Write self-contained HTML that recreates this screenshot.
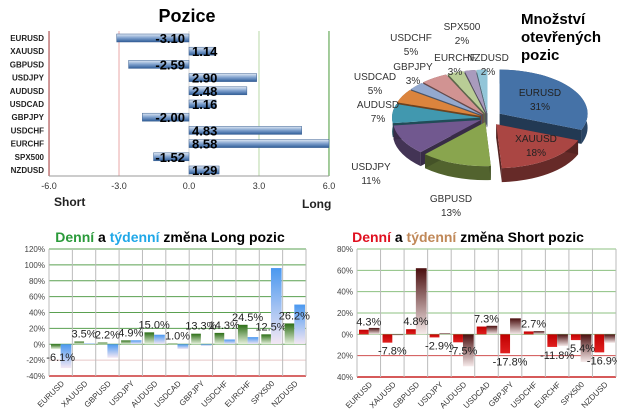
<!DOCTYPE html>
<html><head><meta charset="utf-8"><style>
html,body{margin:0;padding:0;background:#fff;}
svg{display:block;font-family:"Liberation Sans",sans-serif;}
</style></head><body>
<svg id="c" width="617" height="415" viewBox="0 0 617 415">
<defs>
<linearGradient id="gBlue" x1="0" y1="0" x2="0" y2="1"><stop offset="0" stop-color="#dfe8f4"/><stop offset="0.5" stop-color="#7d9fcc"/><stop offset="1" stop-color="#2f5d98"/></linearGradient>
<linearGradient id="gGreen" x1="0" y1="0" x2="0" y2="1"><stop offset="0" stop-color="#2c6e16"/><stop offset="1" stop-color="#e8f2df"/></linearGradient>
<linearGradient id="gLB" x1="0" y1="0" x2="0" y2="1"><stop offset="0" stop-color="#4a98f0"/><stop offset="1" stop-color="#f4e8f4"/></linearGradient>
<linearGradient id="gRed" x1="0" y1="0" x2="0" y2="1"><stop offset="0" stop-color="#c00000"/><stop offset="1" stop-color="#e02020"/></linearGradient>
<linearGradient id="gBrown" x1="0" y1="0" x2="0" y2="1"><stop offset="0" stop-color="#4a0e0e"/><stop offset="1" stop-color="#f6eaea"/></linearGradient>
</defs>
<g id="top"></g><g id="pie"></g><g id="bl"></g><g id="br"></g>
</svg>
<script>
const NS="http://www.w3.org/2000/svg";
function mk(p,t,a,txt){const e=document.createElementNS(NS,t);for(const k in a)e.setAttribute(k,a[k]);if(txt!==undefined)e.textContent=txt;p.appendChild(e);return e;}

// ---------- Pozice ----------
const posCats=["EURUSD","XAUUSD","GBPUSD","USDJPY","AUDUSD","USDCAD","GBPJPY","USDCHF","EURCHF","SPX500","NZDUSD"];
const posVals=[-3.10,1.14,-2.59,2.90,2.48,1.16,-2.00,4.83,8.58,-1.52,1.29];
const posTicks=[-6,-3,0,3,6];
const T=document.getElementById('top');
const px=v=>189+Math.max(-6,Math.min(6,v))*23.33;
const py=i=>38+i*13.2;
let t=mk(T,'text',{x:187,y:22,'font-size':18,'font-weight':'bold','text-anchor':'middle'},'Pozice');

const lineCols={"-6":"#a03030","-3":"#e8a8a8","0":"#d8d8d8","3":"#b8d8a8","6":"#4a9a3a"};
posTicks.forEach(v=>{
 let l=mk(T,'line',{x1:px(v),x2:px(v),y1:31,y2:176,stroke:lineCols[v],'stroke-width':1});
 
 let tx=mk(T,'text',{x:px(v),y:189,'font-size':9,'text-anchor':'middle',fill:'#333'},v.toFixed(1));
 
});
mk(T,'line',{x1:49,x2:329,y1:176,y2:176,stroke:'#999'});
posCats.forEach((c,i)=>{
 let y=py(i),v=posVals[i];
 let lb=mk(T,'text',{x:44,y:y+3,'font-size':8,'font-weight':'bold','text-anchor':'end',fill:'#222'},c);
 
 let x0=Math.min(px(0),px(v)),w=Math.abs(px(v)-px(0));
 let r=mk(T,'rect',{x:x0,y:y-4,width:w,height:8,fill:'url(#gBlue)',stroke:'#3a5f90','stroke-width':0.5});
 
 let vt=mk(T,'text',{x:v<0?185:192,y:y+5,'font-size':13,'font-weight':'bold','text-anchor':v<0?'end':'start'},v.toFixed(2));
 
});
t=mk(T,'text',{x:54,y:206,'font-size':12,'font-weight':'bold',fill:'#222'},'Short');

t=mk(T,'text',{x:302,y:208,'font-size':12,'font-weight':'bold',fill:'#222'},'Long');


// ---------- Pie ----------
const pieCats=["EURUSD","XAUUSD","GBPUSD","USDJPY","AUDUSD","USDCAD","GBPJPY","USDCHF","EURCHF","SPX500","NZDUSD"];
const pieVals=[31,18,13,11,7,5,3,5,3,2,2];
const pieCols=["#4572a7","#aa4643","#89a54e","#71588f","#4198af","#db843d","#93a9cf","#d19392","#b9cd96","#a99bbd","#92c5d8"];
const P=document.getElementById('pie');
const cx=488,cy=118,rx=88,ry=44,dep=14;
const tot=pieVals.reduce((a,b)=>a+b,0);
function darker(h,f){const n=parseInt(h.slice(1),16);const r=(n>>16)*f|0,g=((n>>8)&255)*f|0,b=(n&255)*f|0;return `rgb(${r},${g},${b})`;}
let acc=0;const sl=[];
pieVals.forEach((v,i)=>{const a0=acc/tot*2*Math.PI;acc+=v;const a1=acc/tot*2*Math.PI;sl.push([a0,a1,i]);});
function pt(a,ox,oy,d){return [ox+rx*Math.sin(a),oy-ry*Math.cos(a)+d];}
// sides first (sorted by depth)
sl.slice().sort((p,q)=>Math.cos((q[0]+q[1])/2)-Math.cos((p[0]+p[1])/2)).forEach(([a0,a1,i])=>{
 const m=(a0+a1)/2,ex=i<2?14:8;const ox=cx+ex*Math.sin(m),oy=cy-ex*0.55*Math.cos(m);
 const g=mk(P,'g',{});
 
 const p0=pt(a0,ox,oy,0),p1=pt(a1,ox,oy,0);
 const large=(a1-a0)>Math.PI?1:0;
 let d=`M${p0[0]},${p0[1]} A${rx},${ry} 0 ${large} 1 ${p1[0]},${p1[1]} L${p1[0]},${p1[1]+dep} A${rx},${ry} 0 ${large} 0 ${p0[0]},${p0[1]+dep} Z`;
 mk(g,'path',{d:d,fill:darker(pieCols[i],0.6)});
 mk(g,'path',{d:`M${ox},${oy} L${p0[0]},${p0[1]} L${p0[0]},${p0[1]+dep} L${ox},${oy+dep} Z`,fill:darker(pieCols[i],0.5)});
 mk(g,'path',{d:`M${ox},${oy} L${p1[0]},${p1[1]} L${p1[0]},${p1[1]+dep} L${ox},${oy+dep} Z`,fill:darker(pieCols[i],0.5)});
 mk(g,'path',{d:`M${ox},${oy} L${p0[0]},${p0[1]} A${rx},${ry} 0 ${large} 1 ${p1[0]},${p1[1]} Z`,fill:pieCols[i]});
});
const pieLabels=[[540,96,"#222"],[536,142,"#222"],[451,202,"#333"],[371,170,"#333"],[378,108,"#333"],[375,80,"#333"],[413,70,"#333"],[411,41,"#333"],[455,61,"#333"],[462,30,"#333"],[488,61,"#333"]];
pieCats.forEach((c,i)=>{
 const [x,y,f]=pieLabels[i];
 let tx=mk(P,'text',{x:x,y:y,'font-size':10,'text-anchor':'middle',fill:f},c);
 
 let tp=mk(P,'text',{x:x,y:y+14,'font-size':10,'text-anchor':'middle',fill:f},pieVals[i]+'%');
 
});
['Množství','otevřených','pozic'].forEach((s,k)=>{
 let tx=mk(P,'text',{x:521,y:24+k*18,'font-size':15,'font-weight':'bold'},s);
 
});

// ---------- column charts ----------
const longDaily=[-6.1,3.5,2.2,4.9,15.0,1.0,13.3,14.3,24.5,12.5,26.2];
const longWeekly=[-30,1,-17,5,12,-6,-2,6,9,96,50];
const shortDaily=[4.3,-7.8,4.8,-2.9,-7.5,7.3,-17.8,2.7,-11.8,-5.4,-16.9];
const shortWeekly=[6,-1,62,1,-30,8,15,3,-11,-26,-8];
const longTicks=[120,100,80,60,40,20,0,-20,-40];
const shortTicks=[80,60,40,20,0,-20,-40];
const colCats=["EURUSD","XAUUSD","GBPUSD","USDJPY","AUDUSD","USDCAD","GBPJPY","USDCHF","EURCHF","SPX500","NZDUSD"];

function colChart(G,o){
 const y=v=>o.y0-(v-o.min)/(o.max-o.min)*(o.y0-o.y1);
 const bw=(o.x1-o.x0)/colCats.length;
 o.ticks.forEach(v=>{
  let l=mk(G,'line',{x1:o.x0,x2:o.x1,y1:y(v),y2:y(v),stroke:v<0?o.negGrid:o.posGrid,'stroke-width':v===o.min?1.5:1});
  
  let tx=mk(G,'text',{x:o.x0-4,y:y(v)+3,'font-size':8,'text-anchor':'end',fill:'#444'},(o.absLbl?Math.abs(v):v)+'%');
  
 });
 if(o.min<0){let l=mk(G,'line',{x1:o.x0,x2:o.x1,y1:y(o.min),y2:y(o.min),stroke:'#d04040','stroke-width':1.5});}
 for(let i=0;i<=colCats.length;i++){mk(G,'line',{x1:o.x0+i*bw,x2:o.x0+i*bw,y1:o.y1,y2:o.y0,stroke:'#bbb'});}
 colCats.forEach((c,i)=>{
  const bx=o.x0+i*bw;
  const d=o.daily[i],w=o.weekly[i];
  let r=mk(G,'rect',{x:bx+2,y:Math.min(y(0),y(d)),width:bw/2-2,height:Math.abs(y(d)-y(0)),fill:o.dFill});
  
  r=mk(G,'rect',{x:bx+bw/2,y:Math.min(y(0),y(w)),width:bw/2-1,height:Math.abs(y(w)-y(0)),fill:o.wFill});
  
  const ly=d>=0?y(d)-4:y(d)+12;
  let tx=mk(G,'text',{x:bx+bw/2,y:ly,'font-size':11,'text-anchor':'middle',fill:'#222'},d.toFixed(1)+'%');
  
  let cl=mk(G,'text',{x:bx+bw/2+4,y:o.y0+8,'font-size':8,'text-anchor':'end',fill:'#333',transform:`rotate(-45 ${bx+bw/2+4} ${o.y0+8})`},c);
  
 });
}
const BL=document.getElementById('bl');
colChart(BL,{x0:49,x1:306,y1:249,y0:376,min:-40,max:120,ticks:longTicks,daily:longDaily,weekly:longWeekly,dFill:'url(#gGreen)',wFill:'url(#gLB)',posGrid:'#5aa050',negGrid:'#e8c8c8',absLbl:false});
const BR=document.getElementById('br');
colChart(BR,{x0:357,x1:616,y1:249,y0:377,min:-40,max:80,ticks:shortTicks,daily:shortDaily,weekly:shortWeekly,dFill:'url(#gRed)',wFill:'url(#gBrown)',posGrid:'#8cc080',negGrid:'#d05050',absLbl:true});

let h=mk(BL,'text',{x:170,y:242,'font-size':14,'font-weight':'bold','text-anchor':'middle'});

mk(h,'tspan',{fill:'#2a9a3a'},'Denní');mk(h,'tspan',{fill:'#000'},' a ');mk(h,'tspan',{fill:'#20a8e8'},'týdenní');mk(h,'tspan',{fill:'#000'},' změna Long pozic');
h=mk(BR,'text',{x:468,y:242,'font-size':14,'font-weight':'bold','text-anchor':'middle'});

mk(h,'tspan',{fill:'#e01020'},'Denní');mk(h,'tspan',{fill:'#000'},' a ');mk(h,'tspan',{fill:'#c08858'},'týdenní');mk(h,'tspan',{fill:'#000'},' změna Short pozic');
</script>
</body></html>
